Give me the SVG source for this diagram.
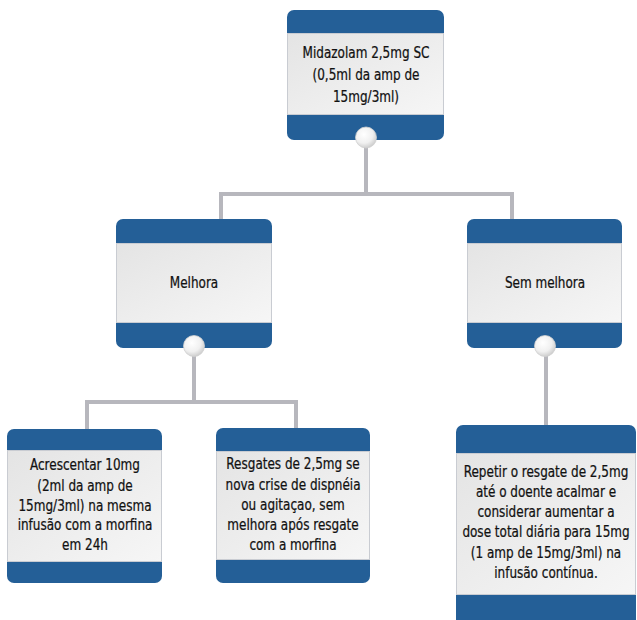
<svg xmlns="http://www.w3.org/2000/svg" width="637" height="620" viewBox="0 0 637 620">
<defs>
<linearGradient id="panel" x1="0" y1="0" x2="1" y2="1">
<stop offset="0" stop-color="#e4e4e4"/>
<stop offset="1" stop-color="#f6f6f6"/>
</linearGradient>
<radialGradient id="knob" cx="0.4" cy="0.35" r="0.7">
<stop offset="0" stop-color="#ffffff"/>
<stop offset="0.6" stop-color="#f0f0f0"/>
<stop offset="1" stop-color="#c8c8c8"/>
</radialGradient>
</defs>
<style>
.box{fill:#245f97}
.pan{fill:url(#panel);stroke:#c9ccd2;stroke-width:1}
.knob{fill:url(#knob);stroke:#d0d0d0;stroke-width:0.8}
.con{fill:none;stroke:#b7b7bd;stroke-width:4}
text{font-family:"DejaVu Sans Condensed","Liberation Sans Narrow","Liberation Sans",sans-serif;font-size:16.5px;fill:#111;stroke:#111;stroke-width:0.25;text-anchor:middle}
</style>
<g id="connectors">
<path class="con" d="M366 140 V194 M221 194 H512 M221 192 V220 M512 192 V220"/>
<path class="con" d="M194 348 V402 M87 402 H296 M87 400 V430 M296 400 V429"/>
<path class="con" d="M546 348 V426"/>
</g>
<g id="n1">
<rect class="box" x="287" y="10" width="157" height="130" rx="7"/>
<rect class="pan" x="287.5" y="33.5" width="156" height="81"/>
<g transform="translate(366 0) scale(0.81 1)">
<text x="0" y="58">Midazolam 2,5mg SC</text>
<text x="0" y="80">(0,5ml da amp de</text>
<text x="0" y="102">15mg/3ml)</text>
</g>
<circle class="knob" cx="366" cy="137.5" r="10.5"/>
</g>
<g id="n2">
<rect class="box" x="116" y="219" width="156" height="129" rx="7"/>
<rect class="pan" x="116.5" y="243.5" width="155" height="79"/>
<g transform="translate(194 0) scale(0.81 1)">
<text x="0" y="288">Melhora</text>
</g>
<circle class="knob" cx="194" cy="346" r="10.5"/>
</g>
<g id="n3">
<rect class="box" x="467" y="219" width="155" height="129" rx="7"/>
<rect class="pan" x="467.5" y="243.5" width="154" height="79"/>
<g transform="translate(545 0) scale(0.81 1)">
<text x="0" y="288">Sem melhora</text>
</g>
<circle class="knob" cx="545" cy="346" r="10.5"/>
</g>
<g id="n4">
<rect class="box" x="7" y="429" width="155" height="154" rx="7"/>
<rect class="pan" x="7.5" y="450.5" width="154" height="111"/>
<g transform="translate(85 0) scale(0.81 1)">
<text x="0" y="470">Acrescentar 10mg</text>
<text x="0" y="491">(2ml da amp de</text>
<text x="0" y="511">15mg/3ml) na mesma</text>
<text x="0" y="530">infusão com a morfina</text>
<text x="0" y="550">em 24h</text>
</g>
</g>
<g id="n5">
<rect class="box" x="216" y="428" width="154" height="155" rx="7"/>
<rect class="pan" x="216.5" y="451.5" width="153" height="108"/>
<g transform="translate(293 0) scale(0.81 1)">
<text x="0" y="469">Resgates de 2,5mg se</text>
<text x="0" y="490">nova crise de dispnéia</text>
<text x="0" y="510">ou agitaçao, sem</text>
<text x="0" y="530">melhora após resgate</text>
<text x="0" y="550">com a morfina</text>
</g>
</g>
<g id="n6">
<rect class="box" x="456" y="425" width="180" height="220" rx="7"/>
<rect class="pan" x="456.5" y="453.5" width="179" height="141"/>
<g transform="translate(546 0) scale(0.81 1)">
<text x="0" y="477">Repetir o resgate de 2,5mg</text>
<text x="0" y="497">até o doente acalmar e</text>
<text x="0" y="517">considerar  aumentar a</text>
<text x="0" y="537">dose total diária para 15mg</text>
<text x="0" y="558">(1 amp de 15mg/3ml) na</text>
<text x="0" y="578">infusão contínua.</text>
</g>
</g>
</svg>
